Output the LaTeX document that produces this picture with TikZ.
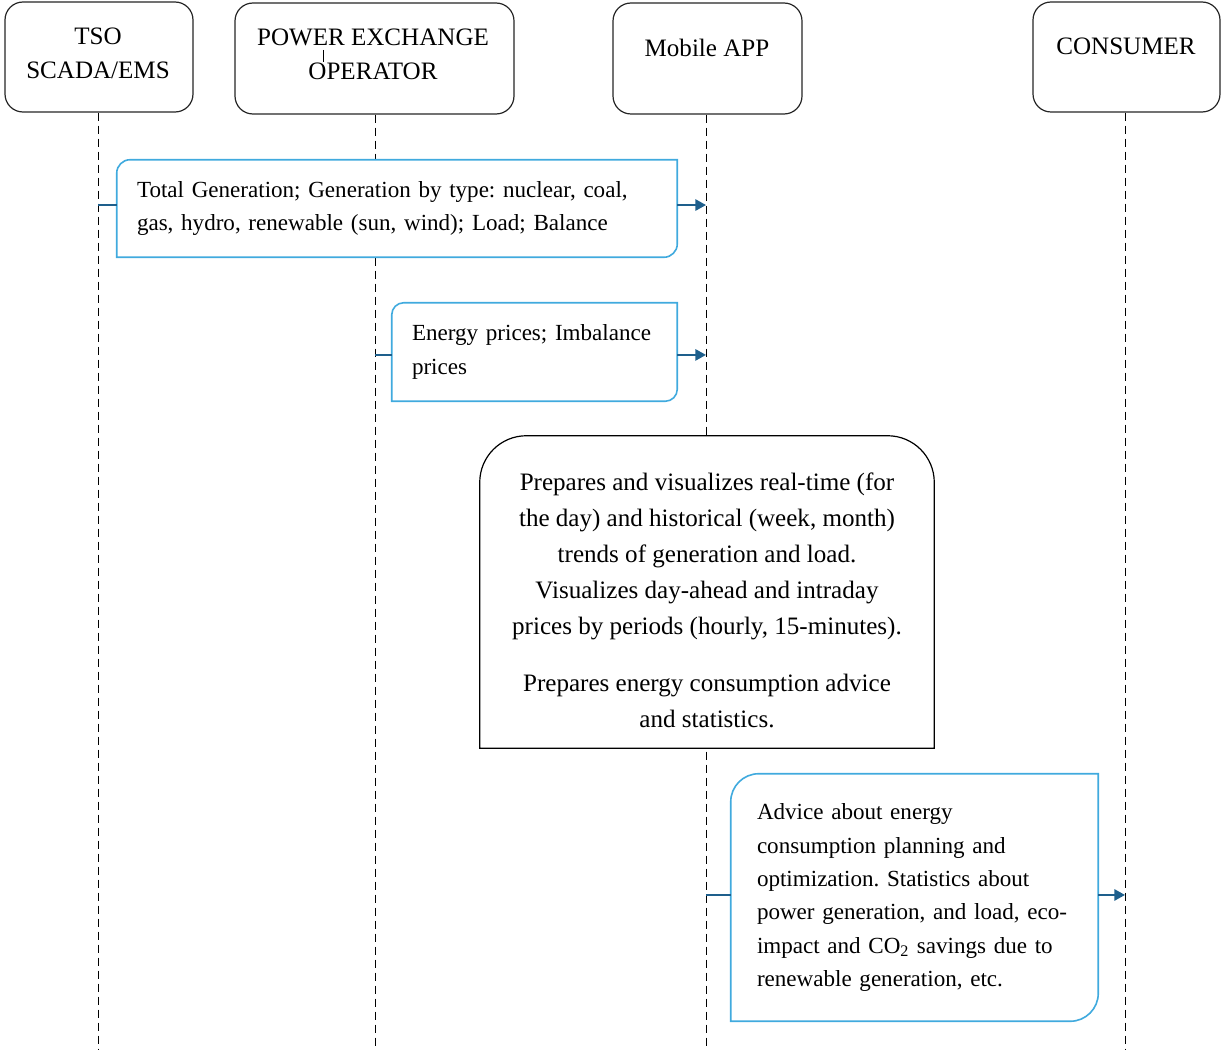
\documentclass[tikz,border=0pt]{standalone}
\usepackage{fontspec}
\setmainfont{Liberation Serif}
\usetikzlibrary{arrows.meta}
\pgfdeclarelayer{background}
\pgfsetlayers{background,main}
\definecolor{boxblue}{RGB}{64,170,222}
\definecolor{flowblue}{RGB}{30,95,140}
\frenchspacing

% outline with rounded top-left and bottom-right corners
\newcommand\leafoutline[2]{%
  \filldraw[leafline] (#1.south west) -- ([yshift=-#2]#1.north west)
    arc[start angle=180,end angle=90,radius=#2] -- (#1.north east)
    -- ([yshift=#2]#1.south east)
    arc[start angle=0,end angle=-90,radius=#2] -- cycle;}

\begin{document}
\begin{tikzpicture}[x=0.75pt,y=-0.75pt,
  actor/.style={draw=black!85, line width=0.9pt, fill=white, rounded corners=13.5pt},
  actortext/.style={font=\fontsize{18.8pt}{25.5pt}\selectfont, align=center, inner sep=0pt},
  leaf/.style={font=\fontsize{17.3pt}{25pt}\selectfont, align=left, inner ysep=0pt},
  leafline/.style={draw=boxblue, line width=1.2pt, fill=white},
  lifeline/.style={draw=black, line width=0.75pt, dash pattern=on 6pt off 3.75pt},
  flow/.style={draw=flowblue, line width=1.4pt},
  flowarrow/.style={flow, -{Triangle[length=8pt,width=8.5pt]}},
  procline/.style={draw=black, line width=0.9pt, fill=white}]

\useasboundingbox (0,0) rectangle (1222,1052);

% participants
\node[actor, minimum width=141pt, minimum height=82.5pt] (tso) at (99,57) {};
\node[actor, minimum width=209.25pt, minimum height=83.25pt] (pxo) at (374.5,58.5) {};
\node[actor, minimum width=141.75pt, minimum height=83.25pt] (mob) at (707.5,58.5) {};
\node[actor, minimum width=140.25pt, minimum height=82.5pt] (con) at (1126.5,57) {};

\node[actortext] (tsoT) at (98,53) {TSO\\SCADA/EMS};
\node[actortext] (pxoT) at (373,54) {POWER EXCHANGE\\OPERATOR};
\node[actortext] (mobT) at (707,48) {Mobile APP};
\node[actortext] (conT) at (1126,46) {CONSUMER};
\draw[line width=0.6pt] (323,50) -- (323,62);

% ends of the lifelines
\coordinate (tsoEnd) at (98,1050);
\coordinate (pxoEnd) at (375,1050);
\coordinate (mobEnd) at (706,1050);
\coordinate (conEnd) at (1125,1050);

% messages and processing
\node[leaf, text width=390pt, inner xsep=15pt, minimum height=72.75pt] (gen) at (397,208.5)
  {Total Generation; Generation by type: nuclear, coal,\\gas, hydro, renewable (sun, wind); Load; Balance};
\node[leaf, text width=183.75pt, inner xsep=15pt, minimum height=73.5pt] (price) at (534.5,352)
  {Energy prices; Imbalance\\prices};
\node[leaf, text width=236.25pt, inner xsep=19.5pt, minimum height=185.25pt] (adv) at (914.5,897.5)
  {Advice about energy\\consumption planning and\\optimization. Statistics about\\power generation, and load, eco-\\impact and CO\textsubscript{2} savings due to\\renewable generation, etc.};
\node[minimum width=340.5pt, minimum height=234pt, inner sep=0pt] (app) at (707,592) {};
\node[actortext, font=\fontsize{18.8pt}{27pt}\selectfont] (appT) at (707,600)
  {Prepares and visualizes real-time (for\\the day) and historical (week, month)\\trends of generation and load.\\Visualizes day-ahead and intraday\\prices by periods (hourly, 15-minutes).\\[15.75pt]Prepares energy consumption advice\\and statistics.};

\begin{pgfonlayer}{background}
  \draw[lifeline] (tso.south -| tsoEnd) -- (tsoEnd);
  \draw[lifeline] (pxo.south -| pxoEnd) -- (pxoEnd);
  \draw[lifeline] (mob.south -| mobEnd) -- (mobEnd);
  \draw[lifeline] (con.south -| conEnd) -- (conEnd);
  \leafoutline{gen}{10pt}
  \leafoutline{price}{9pt}
  \leafoutline{adv}{21pt}
  \filldraw[procline] (app.south west) -- ([yshift=-35pt]app.north west)
    arc[start angle=180,end angle=90,radius=35pt] -- ([xshift=-35pt]app.north east)
    arc[start angle=90,end angle=0,radius=35pt] -- (app.south east) -- cycle;
\end{pgfonlayer}

% connectors
\draw[flow] ([yshift=2.6pt]gen.west -| tsoEnd) -- ([yshift=2.6pt]gen.west);
\draw[flowarrow] ([yshift=2.6pt]gen.east) -- ([yshift=2.6pt]gen.east -| mobEnd);
\draw[flow] ([yshift=-2.2pt]price.west -| pxoEnd) -- ([yshift=-2.2pt]price.west);
\draw[flowarrow] ([yshift=-2.2pt]price.east) -- ([yshift=-2.2pt]price.east -| mobEnd);
\draw[flow] ([yshift=1.9pt]adv.west -| mobEnd) -- ([yshift=1.9pt]adv.west);
\draw[flowarrow] ([yshift=1.9pt]adv.east) -- ([yshift=1.9pt]adv.east -| conEnd);
\end{tikzpicture}
\end{document}
